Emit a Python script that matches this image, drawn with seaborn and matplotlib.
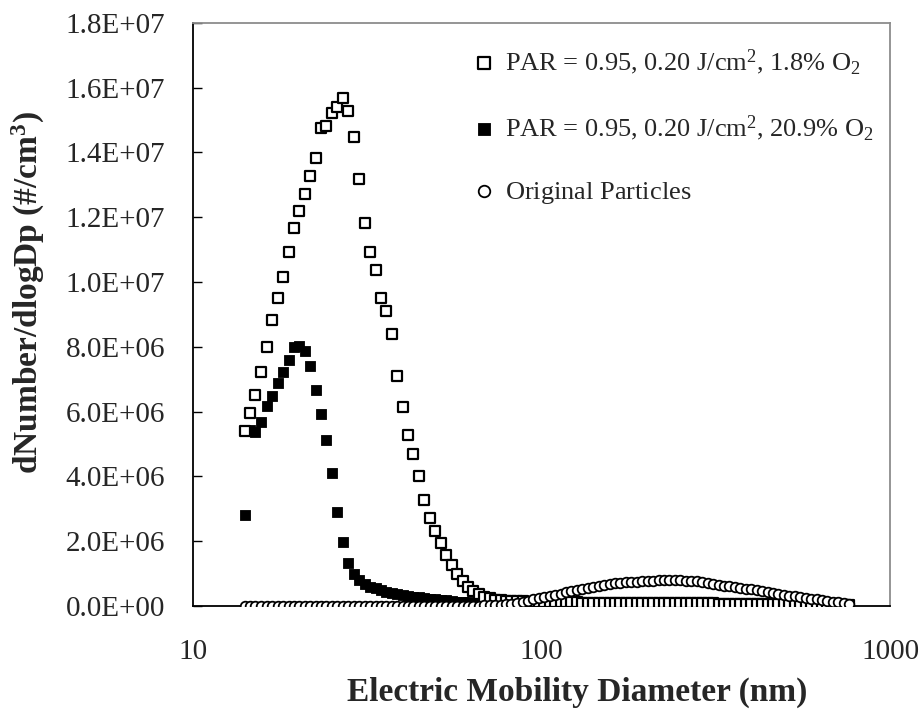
import numpy as np
import pandas as pd
import matplotlib
matplotlib.use('Agg')
import matplotlib.pyplot as plt
import seaborn as sns
from matplotlib.ticker import FuncFormatter, NullLocator

# ── Data (dN/dlogDp in units of 1E+06 #/cm3) ──
diameter_nm = [
    14.1, 14.6, 15.1, 15.7, 16.3, 16.8, 17.5, 18.1, 18.8, 19.5,
    20.2, 20.9, 21.7, 22.5, 23.3, 24.1, 25.0, 25.9, 26.9, 27.9,
    28.9, 30.0, 31.1, 32.2, 33.4, 34.6, 35.9, 37.2, 38.5, 40.0,
    41.4, 42.9, 44.5, 46.1, 47.8, 49.6, 51.4, 53.3, 55.2, 57.3,
    59.4, 61.5, 63.8, 66.1, 68.5, 71.0, 73.7, 76.4, 79.1, 82.0,
    85.1, 88.2, 91.4, 94.7, 98.2, 101.8, 105.5, 109.4, 113.4, 117.6,
    121.9, 126.3, 131.0, 135.8, 140.7, 145.9, 151.2, 156.8, 162.5, 168.5,
    174.7, 181.1, 187.7, 194.6, 201.7, 209.1, 216.7, 224.7, 232.9, 241.4,
    250.3, 259.5, 269.0, 278.8, 289.0, 299.6, 310.6, 322.0, 333.8, 346.0,
    358.7, 371.8, 385.4, 399.5, 414.2, 429.4, 445.1, 461.4, 478.3, 495.8,
    514.0, 532.8, 552.3, 572.5, 593.5, 615.3, 637.8, 661.2, 685.4, 710.5,
    736.5, 763.5,
]

o2_low = [
    5.40, 5.95, 6.52, 7.22, 8.00, 8.82, 9.50, 10.15, 10.93, 11.66,
    12.18, 12.71, 13.27, 13.82, 14.75, 14.80, 15.21, 15.39, 15.69, 15.29,
    14.46, 13.18, 11.82, 10.93, 10.37, 9.52, 9.11, 8.39, 7.09, 6.13,
    5.28, 4.68, 4.01, 3.26, 2.70, 2.32, 1.95, 1.57, 1.27, 1.00,
    0.78, 0.60, 0.47, 0.37, 0.29, 0.24, 0.19, 0.17, 0.16, 0.15,
    0.14, 0.14, 0.13, 0.13, 0.12, 0.12, 0.12, 0.11, 0.11, 0.11,
    0.11, 0.11, 0.10, 0.10, 0.10, 0.10, 0.10, 0.10, 0.10, 0.10,
    0.09, 0.09, 0.09, 0.09, 0.09, 0.09, 0.09, 0.09, 0.08, 0.08,
    0.08, 0.08, 0.08, 0.08, 0.08, 0.08, 0.08, 0.07, 0.07, 0.07,
    0.07, 0.07, 0.07, 0.07, 0.07, 0.06, 0.06, 0.06, 0.06, 0.06,
    0.06, 0.06, 0.05, 0.05, 0.05, 0.05, 0.05, 0.05, 0.04, 0.04,
    0.04, 0.04,
]

o2_high = [
    2.80, 5.44, 5.36, 5.67, 6.18, 6.49, 6.87, 7.23, 7.60, 7.98,
    8.03, 7.86, 7.41, 6.67, 5.93, 5.13, 4.11, 2.90, 1.98, 1.34,
    0.99, 0.80, 0.68, 0.60, 0.55, 0.49, 0.44, 0.41, 0.37, 0.34,
    0.31, 0.29, 0.27, 0.25, 0.23, 0.21, 0.19, 0.17, 0.15, 0.13,
    0.12, 0.11, 0.10, 0.08, 0.07, 0.06, 0.05, 0.05, 0.04, 0.04,
    0.03, 0.03, 0.03, 0.03, 0.02, 0.02, 0.02, 0.02, 0.02, 0.02,
    0.02, 0.01, 0.01, 0.01, 0.01, 0.01, 0.01, 0.01, 0.01, 0.01,
    0.01, 0.01, 0.01, 0.01, 0.01, 0.01, 0.01, 0.01, 0.01, 0.01,
    0.01, 0.01, 0.01, 0.01, 0.01, 0.01, 0.01, 0.01, 0.01, 0.01,
    0.01, 0.01, 0.01, 0.01, 0.01, 0.01, 0.01, 0.01, 0.01, 0.01,
    0.01, 0.01, 0.01, 0.01, 0.01, 0.01, 0.01, 0.01, 0.01, 0.01,
    0.01, 0.01,
]

original = [
    0.01, 0.01, 0.01, 0.01, 0.01, 0.01, 0.01, 0.01, 0.01, 0.01,
    0.01, 0.01, 0.01, 0.01, 0.01, 0.01, 0.01, 0.01, 0.01, 0.01,
    0.01, 0.01, 0.01, 0.01, 0.01, 0.01, 0.01, 0.01, 0.01, 0.01,
    0.01, 0.01, 0.01, 0.01, 0.01, 0.01, 0.01, 0.01, 0.01, 0.01,
    0.01, 0.01, 0.01, 0.01, 0.02, 0.02, 0.02, 0.03, 0.05, 0.07,
    0.09, 0.12, 0.16, 0.21, 0.26, 0.29, 0.32, 0.35, 0.38, 0.42,
    0.46, 0.49, 0.53, 0.56, 0.60, 0.63, 0.66, 0.68, 0.70, 0.71,
    0.73, 0.74, 0.75, 0.76, 0.77, 0.78, 0.79, 0.79, 0.80, 0.80,
    0.79, 0.78, 0.77, 0.76, 0.74, 0.72, 0.69, 0.66, 0.63, 0.61,
    0.58, 0.56, 0.53, 0.51, 0.48, 0.45, 0.43, 0.40, 0.37, 0.35,
    0.32, 0.30, 0.28, 0.25, 0.23, 0.21, 0.18, 0.16, 0.13, 0.11,
    0.09, 0.07,
]

LABEL_LOW  = r'PAR = 0.95, 0.20 J/cm$^2$, 1.8% O$_2$'
LABEL_HIGH = r'PAR = 0.95, 0.20 J/cm$^2$, 20.9% O$_2$'
LABEL_ORIG = r'Original Particles$^{\,}_{\,}$'   # empty sup/sub keeps row height equal

Y_TICKS = [0, 2e6, 4e6, 6e6, 8e6, 1.0e7, 1.2e7, 1.4e7, 1.6e7, 1.8e7]
X_TICKS = [10, 100, 1000]

df = pd.DataFrame({
    'diameter': diameter_nm,
    'low':  np.array(o2_low) * 1e6,
    'high': np.array(o2_high) * 1e6,
    'orig': np.array(original) * 1e6,
})

# ── Style ────────────────────────────────────────────────────
sns.set_theme(style='white')
plt.rcParams['font.family'] = ['Liberation Serif', 'DejaVu Serif']
plt.rcParams['mathtext.fontset'] = 'custom'
plt.rcParams['mathtext.rm'] = 'Liberation Serif'
plt.rcParams['mathtext.it'] = 'Liberation Serif:italic'
plt.rcParams['mathtext.bf'] = 'Liberation Serif:bold'

fig = plt.figure(figsize=(9.23, 7.10), dpi=100)
ax = fig.add_axes([0.2091, 0.1465, 0.7552, 0.8215])

# filled squares first, hollow ones and circles drawn over them
sns.scatterplot(data=df, x='diameter', y='high', marker='s', color='black',
                edgecolor='black', s=52, linewidth=0.6, zorder=2,
                label=LABEL_HIGH, ax=ax)
sns.scatterplot(data=df, x='diameter', y='low', marker='s', color='white',
                edgecolor='black', s=48, linewidth=1.6, zorder=3,
                label=LABEL_LOW, ax=ax)
sns.scatterplot(data=df, x='diameter', y='orig', marker='o', color='white',
                edgecolor='black', s=48, linewidth=1.3, zorder=4,
                label=LABEL_ORIG, ax=ax)

ax.set_xscale('log')
ax.set_xlim(10, 1000)
ax.set_ylim(0, 1.8e7)

ax.set_xticks(X_TICKS)
ax.set_xticklabels([str(t) for t in X_TICKS])
ax.xaxis.set_minor_locator(NullLocator())
ax.set_yticks(Y_TICKS)
ax.yaxis.set_major_formatter(FuncFormatter(lambda v, p: f'{v:.1E}'))

ax.tick_params(axis='y', direction='in', length=6.5, width=1.0,
               color='black', labelsize=21, pad=20, left=True)
ax.tick_params(axis='x', length=0, labelsize=21, pad=24)

for side in ['left', 'bottom']:
    ax.spines[side].set_color('black')
    ax.spines[side].set_linewidth(1.3)
for side in ['top', 'right']:
    ax.spines[side].set_color('#8c8c8c')
    ax.spines[side].set_linewidth(1.3)

ax.set_xlabel('Electric Mobility Diameter (nm)', fontsize=24, fontweight='bold')
ax.xaxis.set_label_coords(0.551, -0.122)
ax.set_ylabel(r'dNumber/dlogDp (#/cm$^\mathbf{3}$)', fontsize=24, fontweight='bold')
ax.yaxis.set_label_coords(-0.2095, 0.538)

handles, labels = ax.get_legend_handles_labels()
order = [labels.index(LABEL_LOW), labels.index(LABEL_HIGH), labels.index(LABEL_ORIG)]
ax.legend([handles[i] for i in order], [labels[i] for i in order],
          loc='upper left', bbox_to_anchor=(0.402, 0.9584), frameon=False,
          fontsize=19, handlelength=0.8, handletextpad=0.4, labelspacing=1.38,
          borderpad=0, borderaxespad=0, markerscale=1.2)

fig.savefig('out.png', dpi=100)
print("saved out.png")
